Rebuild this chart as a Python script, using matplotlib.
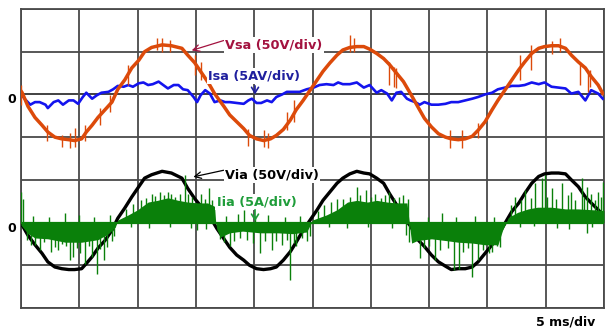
import numpy as np
import matplotlib
matplotlib.use('Agg')
import matplotlib.pyplot as plt

# scope capture: source side (top) and inverter side (bottom), 5 ms/div
# time in ms, voltages in V (50 V/div), currents in A (5 A/div)

vsa_t = [0.0, 0.1, 0.6, 1.2, 1.8, 2.3, 2.9, 3.5, 4.1, 4.6, 5.2, 5.6, 6.1, 6.6, 7.2, 7.8, 8.3, 8.9, 9.5,
         10.1, 10.6, 11.2, 12.1, 12.9, 13.8, 14.3, 14.9, 15.5, 16.1, 16.6, 17.4, 17.9, 18.5, 19.1,
         19.6, 20.2, 20.8, 21.4, 21.9, 22.5, 23.1, 23.6, 24.2, 24.8, 25.4, 25.9, 26.5, 27.1, 27.6,
         28.2, 28.8, 29.4, 29.9, 30.5, 31.1, 31.6, 32.2, 32.8, 33.4, 34.1, 34.6, 35.2, 35.8, 36.4,
         36.9, 37.5, 38.1, 38.7, 39.2, 39.8, 40.4, 40.9, 41.5, 42.1, 42.7, 43.2, 43.8, 44.4, 44.9,
         45.5, 46.1, 46.7, 47.2, 47.8, 48.4, 48.9, 49.5, 49.9]
vsa_v = [4, 2, -14, -27, -36, -44, -50, -52, -53, -54, -52, -44, -36, -27, -18, -9, 6, 17, 31,
         40, 50, 55, 58, 57, 54, 46, 37, 25, 13, 1, -14, -24, -32, -40,
         -48, -52, -54, -52, -48, -41, -30, -18, -7, 5, 17, 27, 37, 46, 52,
         55, 56, 56, 53, 48, 42, 35, 25, 15, 1, -16, -28, -38, -46, -50,
         -52, -53, -52, -49, -42, -32, -18, -7, 5, 17, 29, 38, 48, 54, 56,
         57, 57, 54, 46, 38, 31, 21, 11, 1]
# switching noise riding on the source voltage (time, low, high)
vsa_jit_t = [12.1, 28.6, 45.5, 4.6, 20.8, 36.8, 32.0, 48.8,
             0.0, 2.2, 3.5, 4.2, 5.5, 6.8, 7.6, 9.2, 11.7, 12.8, 14.9, 15.4,
             19.5, 21.2, 22.8, 23.4, 28.2, 31.6, 32.2, 37.8, 39.2, 42.8, 43.7, 46.2, 47.9, 48.6]
vsa_jit_lo = [50, 50, 47, -61, -62, -63, 9, 9,
              -12, -54, -61, -63, -54, -36, -21, 11, 52, 50, 23, 17,
              -60, -63, -42, -32, 50, 11, 8, -63, -51, 17, 29, 50, 11, 3]
vsa_jit_hi = [66, 66, 62, -39, -42, -42, 32, 29,
              11, -36, -48, -45, -36, -16, -1, 35, 66, 64, 46, 38,
              -40, -45, -21, -7, 70, 38, 31, -42, -33, 46, 58, 66, 38, 29]

isa_t = [0.1, 0.3, 0.8, 1.2, 1.6, 2.1, 2.3, 2.8, 3.2, 3.6, 4.1, 4.5, 4.9, 5.3, 5.6, 6.1, 6.5, 6.9,
         7.5, 7.9, 8.3, 8.8, 9.2, 9.6, 10.1, 10.5, 10.9, 11.3, 11.8, 12.2, 12.6, 13.1, 13.5, 13.9,
         14.3, 14.8, 15.1, 15.4, 15.8, 16.2, 16.6, 17.1, 17.5, 17.9, 18.5, 19.1, 19.5, 19.8, 20.2,
         20.6, 21.1, 21.5, 21.9, 22.4, 22.8, 23.4, 23.9, 24.5, 25.1, 25.6, 26.2, 26.8, 27.2, 27.6,
         28.2, 28.8, 29.4, 29.9, 30.5, 30.9, 31.4, 31.8, 32.2, 32.6, 33.1, 33.4, 33.8, 34.2, 34.6,
         35.2, 35.8, 36.4, 36.9, 37.5, 38.1, 38.7, 39.2, 39.8, 40.4, 40.9, 41.5, 42.1, 42.7, 43.2,
         43.8, 44.4, 44.9, 45.5, 46.1, 46.7, 47.2, 47.8, 48.4, 48.9, 49.5, 49.9]
isa_a = [-0.1, -0.5, -1.2, -0.9, -0.9, -1.2, -1.6, -0.9, -0.7, -1.2, -0.7, -0.7, -1.1, -0.3, 0.2, -0.5, -0.1, 0.2,
         0.3, 0.6, 1.0, 0.9, 1.1, 0.9, 1.3, 1.4, 1.1, 1.2, 1.5, 1.1, 0.7, 1.1, 1.1, 0.6,
         0.5, -0.3, -0.9, -0.1, 0.5, 0.1, -0.9, -0.7, -0.9, -0.9, -1.0, -1.1, -0.7, -0.5, -1.0,
         -1.0, -0.7, -0.9, -0.3, 0.0, 0.3, 0.3, 0.3, 0.6, 0.8, 1.1, 1.2, 1.1, 1.4, 1.2,
         1.2, 1.4, 0.8, 1.1, 0.2, 0.5, 0.1, -0.7, 0.2, 0.3, -0.5, -0.7, -0.9, -1.2, -0.9,
         -1.2, -1.2, -1.1, -0.9, -0.9, -0.7, -0.5, -0.3, 0.0, 0.2, 0.6, 0.8, 1.0, 1.0, 1.1,
         1.4, 1.2, 1.4, 0.9, 0.8, 0.7, 0.1, 0.3, -0.7, 0.5, 0.1, -0.5]

via_t = [0.1, 0.6, 1.2, 1.8, 2.3, 2.9, 3.5, 4.1, 4.6, 5.2, 5.6, 6.1, 6.6, 7.2, 7.8, 8.3, 8.9, 9.5,
         10.1, 10.6, 11.2, 12.1, 12.9, 13.8, 14.3, 14.9, 15.5, 16.2, 16.8, 17.4, 17.9, 18.5, 19.1,
         19.6, 20.2, 20.8, 21.4, 21.9, 22.5, 23.1, 23.6, 24.2, 24.8, 25.4, 25.9, 26.5, 27.1, 27.6,
         28.2, 28.8, 29.4, 29.9, 30.5, 31.1, 31.6, 32.2, 32.8, 33.4, 34.1, 34.6, 35.2, 35.8, 36.4,
         36.9, 37.5, 38.1, 38.7, 39.2, 39.8, 40.4, 40.9, 41.5, 42.1, 42.7, 43.2, 43.8, 44.4, 44.9,
         45.5, 46.1, 46.7, 47.2, 47.8, 48.4, 48.9, 49.5, 49.9]
via_v = [-3, -15, -26, -36, -46, -52, -54, -55, -55, -54, -48, -40, -30, -21, -9, 5, 17, 30,
         42, 52, 56, 60, 58, 52, 40, 28, 18, 7, -7, -19, -29, -38, -44,
         -50, -54, -55, -54, -52, -44, -34, -23, -9, 3, 15, 26, 36, 46, 52,
         57, 60, 58, 57, 52, 46, 34, 21, 6, -4, -21, -28, -38, -46, -51,
         -55, -54, -54, -52, -46, -36, -26, -15, -1, 13, 23, 34, 46, 54, 57,
         58, 58, 57, 50, 42, 30, 23, 15, 9]

# inverter current: dense PWM band (envelope) plus the single spikes
iia_env_t = [0.0, 0.6, 1.2, 2.3, 3.8, 5.2, 6.6, 7.5, 8.1, 8.2, 8.3, 9.2, 10.0, 10.9, 11.7, 12.6, 13.5,
             14.3, 15.2, 16.0, 16.6, 16.7, 16.8, 17.1, 17.9, 19.0, 20.5, 22.0, 23.3, 24.5, 24.9,
             25.0, 26.2, 27.1, 28.0, 28.8, 29.7, 30.5, 31.4, 32.2, 33.1, 33.3, 33.5, 34.0, 35.2,
             36.4, 37.5, 38.7, 39.8, 40.9, 41.3, 41.6, 41.8, 42.6, 43.5, 44.3, 45.5, 46.7, 47.8,
             49.0, 50.0]
iia_env = [-0.3, -1.3, -1.8, -1.9, -2.3, -2.3, -2.0, -1.3, -0.5, 0.0, 0.3, 0.9, 1.5, 2.4, 2.6, 2.9, 2.6,
           2.4, 2.3, 2.3, 1.9, 0.0, -0.8, -1.7, -1.2, -1.0, -1.2, -1.2, -1.3, -1.1, 0.0,
           0.3, 0.9, 1.5, 2.4, 2.6, 2.4, 2.6, 2.4, 2.3, 2.3, 0.0, -2.4, -2.1, -1.9,
           -2.1, -2.3, -2.4, -2.6, -2.6, -0.9, 0.0, 0.6, 1.2, 1.6, 1.8, 1.8, 1.6, 1.6,
           1.5, 1.4]
iia_spk_t = [0.0, 0.2, 0.9, 1.6, 2.6, 3.2, 3.9, 4.2, 4.5, 5.5, 6.1, 6.5, 7.1, 7.8, 3.8,
             0.5, 1.2, 2.0, 2.9, 3.5, 4.8, 5.1, 5.8, 6.8, 7.4, 8.0, 1.0, 2.4, 5.0, 6.3, 7.6,
             11.2, 11.9, 12.9, 14.1, 14.3, 16.1, 15.1,
             9.0, 9.6, 10.3, 10.7, 11.5, 12.3, 12.6, 13.2, 13.6, 14.7, 15.4, 15.8,
             9.4, 11.0, 12.8, 14.6, 15.9,
             16.4, 17.4, 17.9, 19.9, 20.5, 21.5, 22.4, 23.1, 23.6, 24.5, 19.1,
             17.1, 18.3, 18.8, 19.4, 20.9, 21.9, 22.8, 23.4, 24.1, 24.8,
             17.6, 18.6, 20.1, 21.2, 22.6, 23.9,
             27.6, 28.8, 29.6, 31.6, 32.8,
             25.5, 26.0, 26.6, 27.1, 28.2, 29.1, 30.0, 30.4, 30.9, 31.2, 32.0, 32.4,
             26.4, 28.0, 29.8, 31.8, 33.0,
             33.2, 33.3, 34.2, 35.5, 37.1, 37.6, 38.7, 39.2, 40.1, 40.8, 36.1,
             34.6, 35.0, 35.9, 36.6, 37.9, 38.3, 39.6, 40.4, 41.1,
             34.9, 37.3, 38.9, 40.6,
             42.4, 43.2, 44.1, 44.7, 44.9, 45.5, 46.4, 47.2, 48.1, 48.5, 48.9, 49.5, 49.95, 48.5,
             42.0, 42.9, 43.7, 45.1, 45.9, 46.9, 47.5, 48.3, 49.2, 49.7,
             42.8, 44.0, 46.0, 47.0, 49.0]
iia_spk = [3.6, 2.8, -2.6, -3.2, -3.4, -3.2, -2.8, -4.4, -4.0, -4.8, -4.0, -6.0, -4.4, -2.1, 1.1,
           -2.0, -2.6, -2.3, -2.9, -2.5, -3.0, -3.6, -2.7, -3.1, -2.9, -1.6, 0.8, 0.6, 0.9, 0.7, 0.9,
           3.4, 3.6, 3.4, 5.6, 3.4, 4.0, -0.9,
           1.6, 2.2, 2.6, 2.9, 3.1, 3.2, 3.6, 3.0, 3.3, 3.0, 3.3, 2.8,
           -0.5, -0.6, -0.5, -0.6, -0.8,
           2.7, -2.3, -2.8, -2.4, -3.6, -3.2, -2.6, -6.7, -2.8, -2.1, 1.5,
           -1.9, -2.2, -1.8, -2.0, -2.2, -2.1, -2.0, -2.4, -1.8, -1.6,
           0.8, 1.0, 0.8, 0.9, 0.7, 0.8,
           2.8, 4.2, 3.8, 3.6, 3.2,
           1.4, 2.0, 2.4, 2.8, 3.0, 3.2, 3.0, 3.3, 2.9, 3.2, 2.9, 3.0,
           -0.5, -0.6, -0.5, -0.6, -1.5,
           2.8, -2.3, -4.2, -4.4, -5.6, -5.4, -6.4, -4.4, -3.6, -2.8, 1.1,
           -3.0, -2.8, -3.2, -3.0, -3.4, -3.0, -3.2, -3.4, -2.9,
           0.7, 0.6, 0.8, 0.6,
           3.0, 3.8, 4.6, 5.2, 5.6, 4.0, 4.6, 3.6, 5.2, 4.2, 3.4, 3.6, 4.8, -1.2,
           2.0, 2.6, 2.9, 3.0, 2.8, 3.2, 2.6, 3.0, 2.7, 3.0,
           -0.5, -0.4, -0.6, -0.8, -0.5]

V_DIV = 50.0
A_DIV = 5.0
TOP = 5   # zero level of the upper traces, in divisions
BOT = 2   # zero level of the lower traces

c_vsa = '#dc4a0a'
c_isa = '#1414ee'
c_iia = '#0a800a'

fig = plt.figure(figsize=(6.1, 3.29), dpi=100)
ax = fig.add_axes([21 / 610, 1 - 308 / 329, 583 / 610, 299 / 329])
ax.set_xlim(0, 50)
ax.set_ylim(0, 7)
ax.set_xticks(np.arange(0, 51, 5))
ax.set_yticks(range(8))
ax.grid(True, color='#4a4a4a', lw=1.3, zorder=1)
ax.tick_params(length=0, labelbottom=False, labelleft=False)
for s in ax.spines.values():
    s.set_color('#4a4a4a')
    s.set_linewidth(1.3)
ax.axhline(TOP, color='black', lw=1.2, zorder=1.5)
ax.axhline(BOT, color='black', lw=1.2, zorder=1.5)

# upper traces
ax.plot(isa_t, np.array(isa_a) / A_DIV + TOP, color=c_isa, lw=1.9, zorder=3)
ax.plot(vsa_t, np.array(vsa_v) / V_DIV + TOP, color=c_vsa, lw=2.5, zorder=4)
ax.vlines(vsa_jit_t, np.array(vsa_jit_lo) / V_DIV + TOP, np.array(vsa_jit_hi) / V_DIV + TOP,
          color=c_vsa, lw=1.0, zorder=4)

# lower traces
ax.plot(via_t, np.array(via_v) / V_DIV + BOT, color='black', lw=2.4, zorder=3)
ax.fill_between(iia_env_t, BOT, np.array(iia_env) / A_DIV + BOT, color=c_iia, lw=0, zorder=4)
ax.axhline(BOT, color=c_iia, lw=1.6, zorder=4)
ax.vlines(iia_spk_t, BOT, np.array(iia_spk) / A_DIV + BOT, color=c_iia, lw=1.0, zorder=5)

lab = dict(fontsize=9.3, fontweight='bold', ha='left', va='center', zorder=6)
box = dict(fc='white', ec='none', pad=1.0)

ax.annotate('Vsa (50V/div)', xy=(14.64, 6.03), xytext=(17.5, 6.15), color='#a3123f', bbox=box,
            arrowprops=dict(arrowstyle='->,head_length=0.5,head_width=0.25', color='#a3123f',
                            lw=0.9, relpos=(0, 0.9), shrinkA=0, shrinkB=0), **lab)
ax.annotate('Isa (5AV/div)', xy=(16.04, 5.43), color='#1f1f9e', bbox=box, **lab)
ax.annotate('', xy=(20.07, 5.0), xytext=(20.07, 5.2),
            arrowprops=dict(arrowstyle='->,head_length=0.4,head_width=0.25', color='#1f1f9e', lw=1.2,
                            shrinkA=0, shrinkB=0), zorder=6)

ax.annotate('Via (50V/div)', xy=(14.78, 3.07), xytext=(17.5, 3.11), color='black', bbox=box,
            arrowprops=dict(arrowstyle='->,head_length=0.5,head_width=0.25', color='black',
                            lw=0.9, relpos=(0, 0.9), shrinkA=0, shrinkB=0), **lab)
ax.annotate('Iia (5A/div)', xy=(16.78, 2.48), color='#1f9d3a', bbox=box, **lab)
ax.annotate('', xy=(20.07, 2.03), xytext=(20.07, 2.3),
            arrowprops=dict(arrowstyle='->,head_length=0.4,head_width=0.25', color='#1f9d3a', lw=1.2,
                            shrinkA=0, shrinkB=0), zorder=6)

ax.text(-0.77, TOP - 0.13, '0', ha='center', va='center', fontsize=9, fontweight='bold', clip_on=False)
ax.text(-0.77, BOT - 0.13, '0', ha='center', va='center', fontsize=9, fontweight='bold', clip_on=False)
ax.text(46.7, -0.32, '5 ms/div', ha='center', va='center', fontsize=9, fontweight='bold', clip_on=False)

fig.savefig('out.png', dpi=100)
plt.close(fig)
